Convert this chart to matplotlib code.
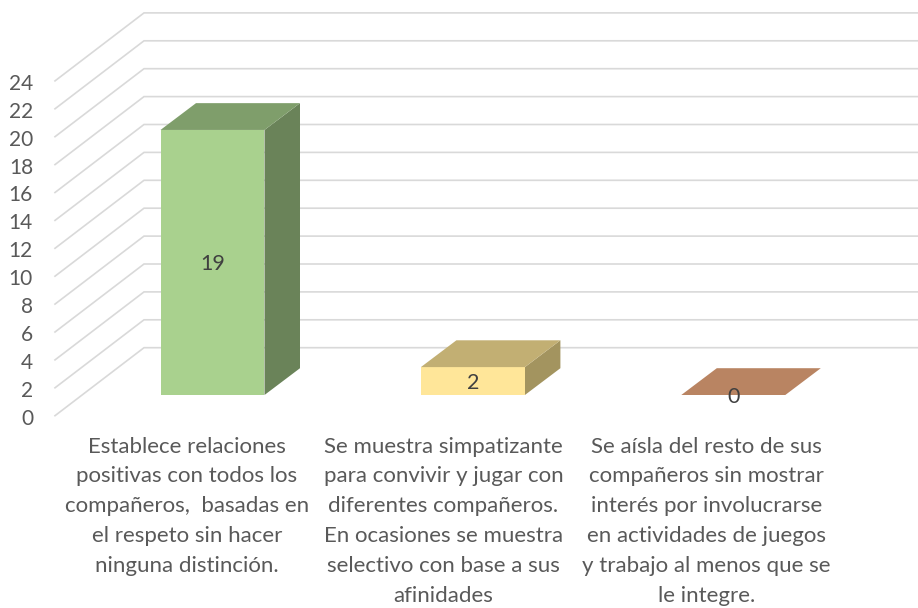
import matplotlib
matplotlib.use("Agg")
import matplotlib.pyplot as plt
from matplotlib.patches import Polygon

plt.rcParams['font.family'] = ['Lato', 'DejaVu Sans']

W, H = 918, 608
categories = [
    "Establece relaciones\npositivas con todos los\ncompañeros,  basadas en\nel respeto sin hacer\nninguna distinción.",
    "Se muestra simpatizante\npara convivir y jugar con\ndiferentes compañeros.\nEn ocasiones se muestra\nselectivo con base a sus\nafinidades",
    "Se aísla del resto de sus\ncompañeros sin mostrar\ninterés por involucrarse\nen actividades de juegos\ny trabajo al menos que se\nle integre.",
]
values = [19, 2, 0]
ticks = list(range(0, 25, 2))
front_colors = ["#A9D18E", "#FFE699", "#F4B183"]
top_colors = ["#7F9E6B", "#C2AF73", "#B98462"]
side_colors = ["#6A8359", "#A3945F", "#9A6E52"]
grid_color = "#D9D9D9"

# Scales: one category = 260.4 px, one value unit = 13.95 px
XU, YU = 260.4, 13.95
X0, Y0 = 212.5, 395.0
BAR_W = 104.0 / XU
DX, DY = 35.5 / XU, 26.8 / YU          # bar depth
WALL_DX, WALL_DY = 89.0 / XU, 68.0 / YU  # floor depth
FLOOR_FRONT = -20.7 / YU               # front edge of the floor, relative to the bar plane
WALL_LEFT = (55.0 - X0) / XU
LABEL_SHIFT = [-25.8 / XU, -29.5 / XU, -27.0 / XU]

fig = plt.figure(figsize=(W / 100, H / 100), dpi=100)
ax = fig.add_axes([0, 0, 1, 1])
ax.set_xlim(-X0 / XU, (W - X0) / XU)
ax.set_ylim((Y0 - H) / YU, Y0 / YU)
ax.axis("off")

for t in ticks:
    y = FLOOR_FRONT + t
    ax.plot([WALL_LEFT, WALL_LEFT + WALL_DX, ax.get_xlim()[1]],
            [y, y + WALL_DY, y + WALL_DY],
            color=grid_color, lw=1.2, zorder=1, solid_joinstyle="miter")
    ax.text(WALL_LEFT - 22.0 / XU, y - 0.07, str(t), ha="right", va="center_baseline",
            fontsize=15, color="#595959")

for i, v in enumerate(values):
    l, r = i - BAR_W / 2, i + BAR_W / 2
    if v > 0:
        ax.add_patch(Polygon([(r, 0), (r + DX, DY), (r + DX, v + DY), (r, v)],
                             closed=True, fc=side_colors[i], ec="none", zorder=2))
        ax.add_patch(Polygon([(l, 0), (r, 0), (r, v), (l, v)],
                             closed=True, fc=front_colors[i], ec="none", zorder=3))
    ax.add_patch(Polygon([(l, v), (r, v), (r + DX, v + DY), (l + DX, v + DY)],
                         closed=True, fc=top_colors[i], ec="none", zorder=3))
    ax.text(i, v / 2 - 0.12, str(v), ha="center", va="center",
            fontsize=15.5, color="#404040", zorder=4)

for i, c in enumerate(categories):
    ax.text(i + LABEL_SHIFT[i], -2.98, c, ha="center", va="top", fontsize=16,
            color="#595959", linespacing=1.62, multialignment="center")

fig.savefig("out.png", dpi=100)
